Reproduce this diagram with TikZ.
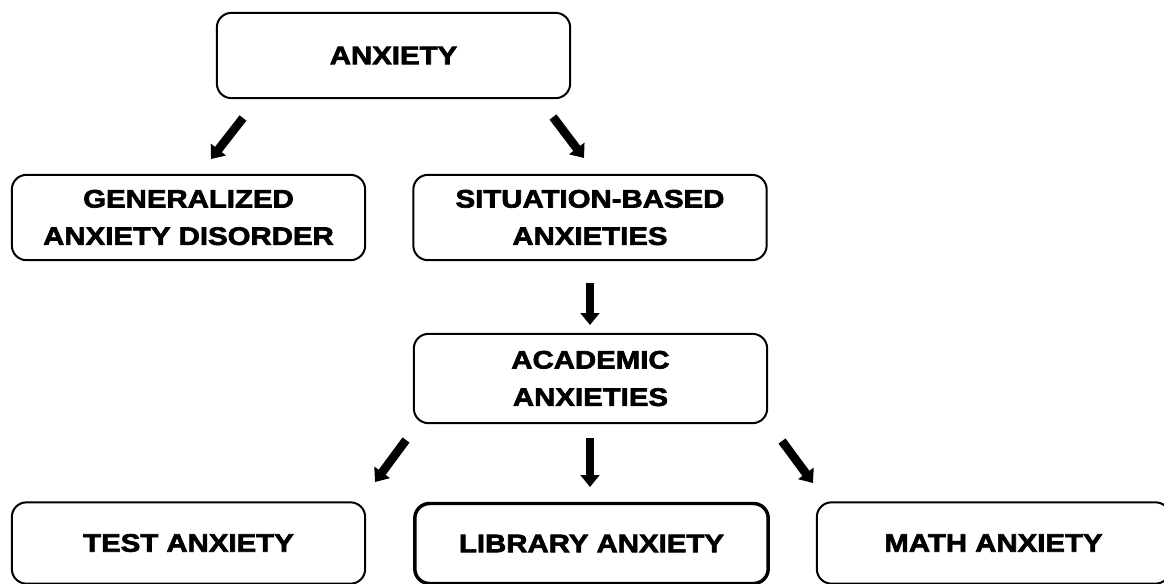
\documentclass[tikz,border=0pt]{standalone}
\usepackage{fontspec}
\setmainfont{Liberation Sans}[FakeStretch=1.16,BoldFeatures={FakeBold=2.6}]
\usetikzlibrary{arrows.meta}
\tikzset{
  box/.style={draw=black,line width=1.5pt,rounded corners=11pt,fill=white,
    minimum width=265pt,minimum height=64pt,inner sep=0pt,align=center,
    font=\fontsize{19}{28}\selectfont\bfseries},
  thickbox/.style={box,line width=2.6pt},
  arr/.style={line width=6.5pt,-{Triangle[width=14pt,length=9pt]}}
}
\begin{document}
\begin{tikzpicture}[x=0.75pt,y=-0.75pt]
\useasboundingbox (0,0) rectangle (1164,583);
\node[box] (anx) at (393.5,55.5) {ANXIETY};
\node[box] (gad) at (188.5,217.5) {GENERALIZED\\ANXIETY DISORDER};
\node[box] (sit) at (590,217.5) {SITUATION-BASED\\ANXIETIES};
\node[box,minimum height=67pt] (acad) at (590.5,378.5) {ACADEMIC\\ANXIETIES};
\node[box,minimum height=61pt] (test) at (188.5,543) {TEST ANXIETY};
\node[thickbox,minimum height=60pt] (lib) at (591.5,543.5) {LIBRARY ANXIETY};
\node[box,minimum height=61pt] (math) at (993.5,543) {MATH ANXIETY};
\coordinate (a1s) at (243,118); \coordinate (a1e) at (211,159);
\coordinate (a2s) at (553,117); \coordinate (a2e) at (584,158);
\coordinate (a3s) at (590,283); \coordinate (a3e) at (590,325);
\coordinate (a4s) at (406,440); \coordinate (a4e) at (375,482);
\coordinate (a5s) at (590,438); \coordinate (a5e) at (590,487);
\coordinate (a6s) at (782,441); \coordinate (a6e) at (813,483);
\draw[arr] (a1s) -- (a1e);
\draw[arr] (a2s) -- (a2e);
\draw[arr] (a3s) -- (a3e);
\draw[arr] (a4s) -- (a4e);
\draw[arr] (a5s) -- (a5e);
\draw[arr] (a6s) -- (a6e);
\end{tikzpicture}
\end{document}
